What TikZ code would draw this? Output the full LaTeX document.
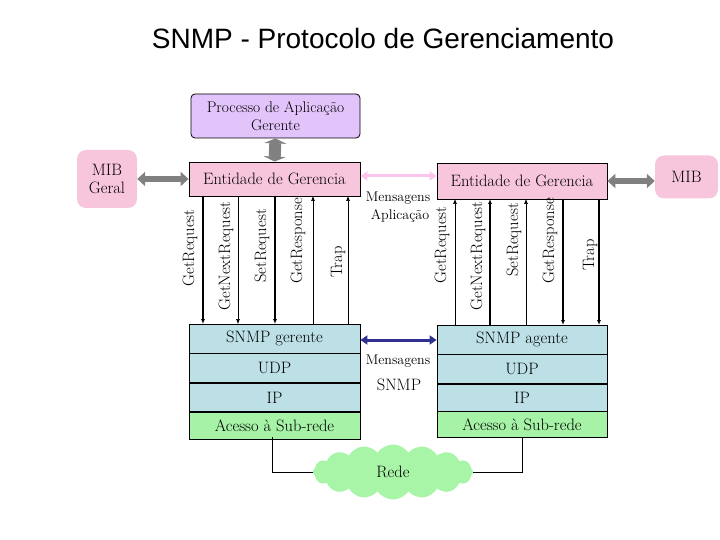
\documentclass[tikz,border=0pt]{standalone}
\usepackage{fontspec}
\newfontfamily\titlefont{Liberation Sans}
\usetikzlibrary{shapes.symbols,arrows.meta}
\definecolor{lav}{HTML}{E2C4FA}
\definecolor{pk}{HTML}{F8C6DC}
\definecolor{lb}{HTML}{BCE0E6}
\definecolor{gr}{HTML}{A6F2A6}
\definecolor{cl}{HTML}{A8F5A8}
\definecolor{navy}{HTML}{303090}
\begin{document}
\begin{tikzpicture}[x=1pt,y=-1pt,font=\fontsize{16.5}{18}\selectfont,
 box/.style={draw,line width=0.8pt,inner sep=0pt},
 thin/.style={line width=0.6pt,-{Latex[length=5pt,width=4pt]}},
 thick/.style={line width=1.6pt,-{Latex[length=5pt,width=4pt]}},
 lbl/.style={rotate=90,anchor=center},
 garrow/.style={line width=6pt,gray,{Triangle[length=8pt,width=14pt]}-{Triangle[length=8pt,width=14pt]}},
 mib/.style={fill=pk,rounded corners=9pt,align=center}]
\useasboundingbox (0,0) rectangle (720,540);
\node[font=\titlefont\fontsize{28}{32}\selectfont] (title) at (383,38) {SNMP - Protocolo de Gerenciamento};
% manager side
\node[box,fill=lav,rounded corners=4pt,minimum width=169pt,minimum height=44pt,align=center,font=\fontsize{15.5}{18}\selectfont] (proc) at (275.5,116) {Processo de Aplicação\\Gerente};
\node[box,fill=pk,minimum width=171pt,minimum height=34pt] (entL) at (274.5,179) {Entidade de Gerencia};
\node[mib,minimum width=60pt,minimum height=58pt] (mibL) at (107,179) {MIB\\Geral};
\draw[line width=12pt,gray,{Triangle[length=5pt,width=22pt]}-{Triangle[length=5pt,width=22pt]}] (proc.south) -- (entL.north);
\draw[garrow] (mibL.east) -- (entL.west);
\node[box,fill=lb,minimum width=171pt,minimum height=29pt] (sgL) at (274.5,338.5) {SNMP gerente};
\node[box,fill=lb,minimum width=171pt,minimum height=29pt,anchor=north] (udpL) at (sgL.south) {UDP};
\node[box,fill=lb,minimum width=171pt,minimum height=28pt,anchor=north] (ipL) at (udpL.south) {IP};
\node[box,fill=gr,minimum width=171pt,minimum height=27pt,anchor=north] (acL) at (ipL.south) {Acesso à Sub-rede};
\foreach \x/\s in {203/thick,238/thin,275/thick}{\draw[\s] (\x,196) -- (\x,324);}
\foreach \x in {313,348}{\draw[thin] (\x,324) -- (\x,196);}
\node[lbl] (l1) at (190,248) {GetRequest};
\node[lbl] (l2) at (226,256) {GetNextRequest};
\node[lbl] (l3) at (262,246) {SetRequest};
\node[lbl] (l4) at (298,241) {GetResponse};
\node[lbl] (l5) at (338,262) {Trap};
% agent side
\node[box,fill=pk,minimum width=170pt,minimum height=36pt] (entR) at (522,181) {Entidade de Gerencia};
\node[mib,minimum width=63pt,minimum height=43pt] (mibR) at (686.5,177) {MIB};
\draw[garrow] (entR.east) -- (entR.east -| mibR.west);
\node[box,fill=lb,minimum width=170pt,minimum height=29pt] (sgR) at (522,339.5) {SNMP agente};
\node[box,fill=lb,minimum width=170pt,minimum height=29pt,anchor=north] (udpR) at (sgR.south) {UDP};
\node[box,fill=lb,minimum width=170pt,minimum height=27pt,anchor=north] (ipR) at (udpR.south) {IP};
\node[box,fill=gr,minimum width=170pt,minimum height=26pt,anchor=north] (acR) at ([yshift=1pt]ipR.south) {Acesso à Sub-rede};
\foreach \x/\s in {455/thin,490/thick,526/thin}{\draw[\s] (\x,325) -- (\x,199);}
\foreach \x in {563,599}{\draw[thick] (\x,199) -- (\x,325);}
\node[lbl] (r1) at (442,245) {GetRequest};
\node[lbl] (r2) at (478,256) {GetNextRequest};
\node[lbl] (r3) at (514,240) {SetRequest};
\node[lbl] (r4) at (550,241) {GetResponse};
\node[lbl] (r5) at (590,255) {Trap};
% middle
\draw[line width=3pt,pk!80!magenta!60,{Triangle[length=7pt,width=9pt]}-{Triangle[length=7pt,width=9pt]}] (entL.east |- 0,176) -- (entR.west |- 0,176);
\node[font=\fontsize{14}{16}\selectfont] (ma) at (398,198) {Mensagens};
\node[font=\fontsize{14}{16}\selectfont] (ap) at (400,216) {Aplicação};
\draw[line width=3pt,navy,{Triangle[length=7pt,width=9pt]}-{Triangle[length=7pt,width=9pt]}] (sgL.east |- 0,340) -- (sgR.west |- 0,340);
\node[font=\fontsize{14}{16}\selectfont] (ms) at (398,361) {Mensagens};
\node (sn) at (399,385) {SNMP};
% network
\node[cloud,fill=cl,cloud puffs=16,cloud puff arc=110,aspect=3.2,minimum width=160pt,minimum height=55pt,inner sep=0pt] (rede) at (393,472) {Rede};
\draw[line width=0.6pt] (272,437) |- (rede.west);
\draw[line width=0.6pt] (522,437) |- (rede.east);
\end{tikzpicture}
\end{document}
